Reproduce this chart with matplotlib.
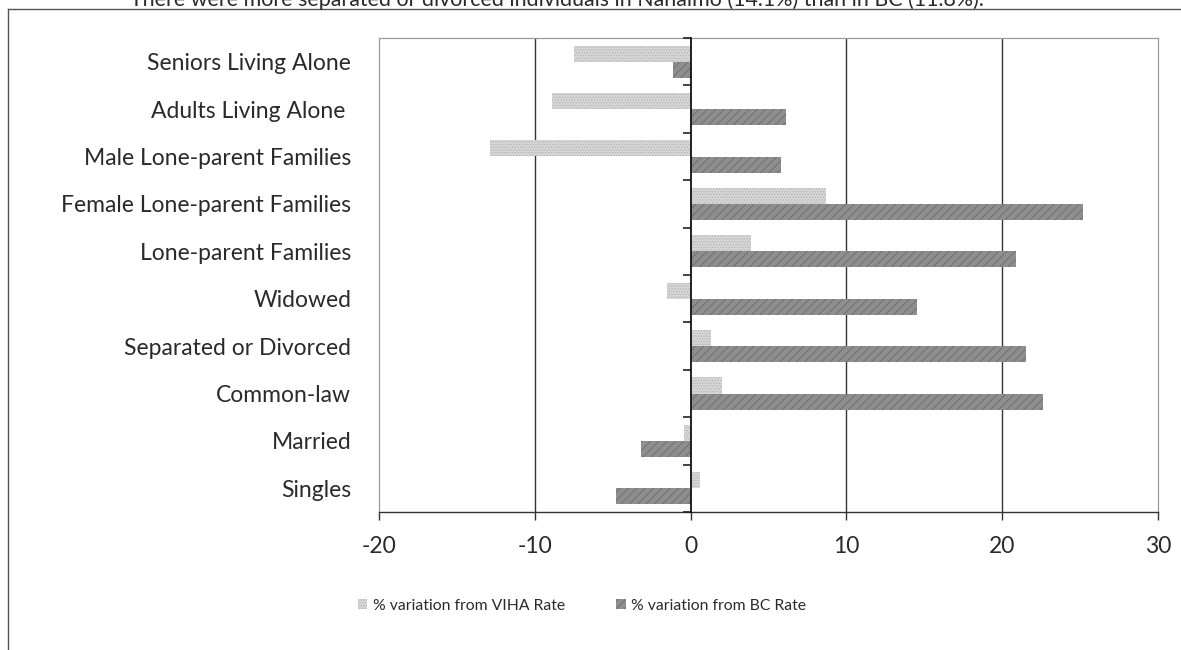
import matplotlib
matplotlib.use("Agg")
import matplotlib.pyplot as plt
import numpy as np
from matplotlib.lines import Line2D

categories = ["Singles", "Married", "Common-law", "Separated or Divorced", "Widowed",
              "Lone-parent Families", "Female Lone-parent Families",
              "Male Lone-parent Families", "Adults Living Alone ", "Seniors Living Alone"]
viha = [0.6, -0.4, 2.0, 1.3, -1.5, 3.9, 8.7, -12.9, -8.9, -7.5]
bc = [-4.8, -3.2, 22.6, 21.5, 14.5, 20.9, 25.2, 5.8, 6.1, -1.1]
series_names = ["% variation from VIHA Rate", "% variation from BC Rate"]
xticks = [-20, -10, 0, 10, 20, 30]
title_text = "There were more separated or divorced individuals in Nanaimo (14.1%) than in BC (11.8%)."

FONT = "Lato"
plt.rcParams["font.family"] = [FONT, "DejaVu Sans"]
plt.rcParams["hatch.linewidth"] = 0.6
TXT = "#2a2a2a"

W, H = 1181, 650
fig = plt.figure(figsize=(W / 100, H / 100), dpi=100)
fig.patch.set_facecolor("white")

# clipped caption at the very top
fig.text(130 / W, 1 - 6 / H, title_text, fontsize=15.4, color=TXT,
         ha="left", va="baseline")
# outer frame (top and left)
fig.add_artist(Line2D([8 / W, 1.0], [1 - 9 / H, 1 - 9 / H], transform=fig.transFigure,
                      color="#555555", lw=1.0))
fig.add_artist(Line2D([8 / W, 8 / W], [1 - 9 / H, 0], transform=fig.transFigure,
                      color="#555555", lw=1.0))

left, right, top, bottom = 379, 1158, 38, 512
ax = fig.add_axes([left / W, 1 - bottom / H, (right - left) / W, (bottom - top) / H])

y = np.arange(len(categories))
h = 0.34
ax.barh(y + h / 2, viha, height=h, color="#d6d6d6", edgecolor="#b4b4b4",
        hatch="......", linewidth=0, label=series_names[0], zorder=3)
ax.barh(y - h / 2, bc, height=h, color="#8e8e8e", edgecolor="#6c6c6c",
        hatch="////", linewidth=0, label=series_names[1], zorder=3)

xmin, xmax = -20, 30
ax.set_xlim(xmin, xmax)
ax.set_ylim(-0.5, len(categories) - 0.5)

ax.set_xticks(xticks)
ax.set_xticklabels([str(t) for t in xticks], fontsize=16.5, color=TXT)
ax.tick_params(axis="x", direction="out", length=6, width=1, color="#333333", pad=11)

ax.set_yticks(y)
ax.set_yticklabels(categories, fontsize=16.5, color=TXT)
ax.tick_params(axis="y", length=0, pad=20)

for t in xticks[1:-1]:
    if t != 0:
        ax.axvline(t, color="#333333", lw=1.0, zorder=1)

for s in ["left", "right", "top"]:
    ax.spines[s].set_color("#9a9a9a")
    ax.spines[s].set_linewidth(0.9)
ax.spines["bottom"].set_color("#333333")
ax.spines["bottom"].set_linewidth(1.0)

# category axis crossing at x = 0
loc0 = (0 - xmin) / (xmax - xmin)
sec = ax.secondary_yaxis(loc0)
sec.set_yticks(np.arange(-0.5, len(categories), 1.0))
sec.set_yticklabels([])
sec.tick_params(axis="y", direction="out", length=6, width=1.2, color="#222222")
sec.spines["left"].set_color("#111111")
sec.spines["left"].set_linewidth(1.3)
sec.set_zorder(4)

handles, labels = ax.get_legend_handles_labels()
leg = fig.legend(handles, labels, loc="center", bbox_to_anchor=(582 / W, 1 - 606 / H),
                 ncol=2, frameon=False, handlelength=0.6, handleheight=0.6,
                 handletextpad=0.35, columnspacing=3.3,
                 prop={"size": 11.3})
for t in leg.get_texts():
    t.set_color(TXT)

fig.savefig("out.png", dpi=100, facecolor="white")
